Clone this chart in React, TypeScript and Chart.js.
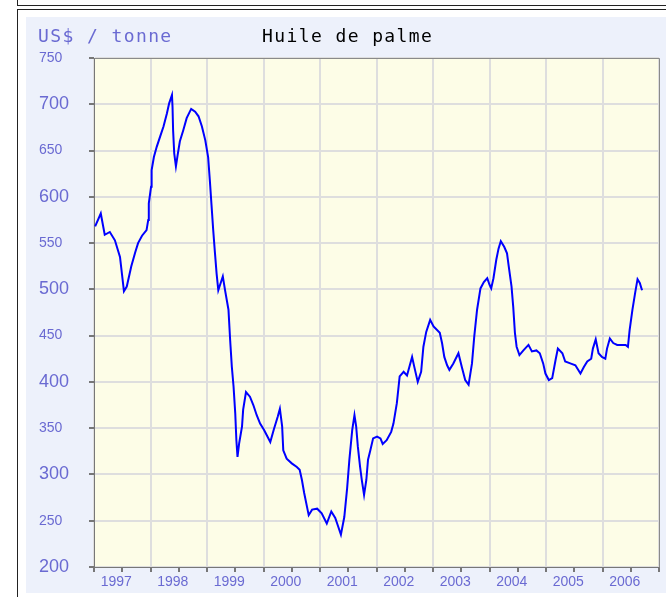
import React, { useEffect, useRef } from "react";
import { Chart, registerables } from "chart.js";

Chart.register(...registerables);

const yearPositions: number[] = [
  1997.02, 1997.12, 1997.19, 1997.28, 1997.37, 1997.46, 1997.53, 1997.58, 1997.66, 1997.73,
  1997.78, 1997.85, 1997.93, 1997.96, 1997.97, 1998.01, 1998.02, 1998.06, 1998.11, 1998.17,
  1998.23, 1998.29, 1998.33, 1998.38, 1998.39, 1998.40, 1998.42, 1998.45, 1998.48, 1998.52,
  1998.58, 1998.64, 1998.72, 1998.79, 1998.85, 1998.91, 1998.97, 1999.02, 1999.05, 1999.08,
  1999.11, 1999.14, 1999.17, 1999.20, 1999.28, 1999.32, 1999.38, 1999.41, 1999.44, 1999.47,
  1999.50, 1999.52, 1999.54, 1999.57, 1999.62, 1999.64, 1999.69, 1999.76, 1999.82, 1999.88,
  1999.94, 2000.01, 2000.12, 2000.18, 2000.25, 2000.29, 2000.33, 2000.35, 2000.41, 2000.50,
  2000.59, 2000.64, 2000.68, 2000.72, 2000.77, 2000.80, 2000.86, 2000.95, 2001.03, 2001.12,
  2001.20, 2001.27, 2001.32, 2001.37, 2001.43, 2001.48, 2001.52, 2001.57, 2001.61, 2001.64,
  2001.67, 2001.71, 2001.74, 2001.78, 2001.82, 2001.85, 2001.89, 2001.94, 2002.01, 2002.07,
  2002.11, 2002.18, 2002.26, 2002.30, 2002.36, 2002.41, 2002.48, 2002.54, 2002.63, 2002.67,
  2002.73, 2002.79, 2002.83, 2002.88, 2002.95, 2003.01, 2003.12, 2003.16, 2003.20, 2003.25,
  2003.29, 2003.36, 2003.45, 2003.51, 2003.57, 2003.63, 2003.69, 2003.73, 2003.78, 2003.84,
  2003.90, 2003.96, 2004.00, 2004.03, 2004.07, 2004.12, 2004.16, 2004.20, 2004.26, 2004.31,
  2004.34, 2004.39, 2004.42, 2004.45, 2004.48, 2004.53, 2004.60, 2004.69, 2004.75, 2004.83,
  2004.89, 2004.95, 2004.99, 2005.05, 2005.11, 2005.17, 2005.21, 2005.29, 2005.34, 2005.43,
  2005.52, 2005.61, 2005.67, 2005.73, 2005.80, 2005.83, 2005.88, 2005.93, 2005.99, 2006.05,
  2006.08, 2006.13, 2006.19, 2006.26, 2006.35, 2006.41, 2006.45, 2006.48, 2006.53, 2006.58,
  2006.62, 2006.66, 2006.70,
];

const prices: number[] = [
  568, 582, 559, 562, 553, 535, 498, 503, 525, 540,
  550, 558, 564, 575, 593, 611, 629, 643, 654, 665,
  676, 690, 701, 710, 697, 672, 647, 633, 645, 660,
  672, 685, 695, 692, 687, 676, 661, 643, 618, 591,
  564, 540, 517, 499, 514, 499, 478, 445, 416, 395,
  366, 337, 319, 334, 352, 370, 389, 384, 375, 364,
  355, 348, 335, 348, 362, 371, 352, 326, 317, 312,
  308, 305, 294, 280, 265, 256, 262, 263, 258, 247,
  260, 253, 244, 235, 254, 285, 316, 348, 364, 352,
  330, 308, 294, 278, 294, 316, 326, 339, 341, 339,
  333, 337, 346, 355, 377, 406, 411, 407, 427, 416,
  400, 411, 438, 454, 467, 460, 453, 442, 427, 418,
  413, 420, 431, 416, 402, 397, 420, 449, 478, 501,
  508, 512, 505, 501, 512, 532, 544, 552, 546, 539,
  525, 503, 481, 453, 438, 429, 434, 440, 433, 434,
  431, 420, 409, 402, 404, 424, 436, 431, 422, 420,
  418, 409, 416, 422, 425, 436, 446, 431, 427, 425,
  436, 447, 442, 440, 440, 440, 438, 456, 478, 497,
  511, 507, 499,
];

const yearLabels: string[] = ["1997", "1998", "1999", "2000", "2001", "2002", "2003", "2004", "2005", "2006"];
const yMin = 200;
const yMax = 750;
const yStep = 50;
const unitLabel = "US$ / tonne";
const titleText = "Huile de palme";

const LABEL_BLUE = "#6a6ad2";

export default function App() {
  const canvasRef = useRef<HTMLCanvasElement | null>(null);

  useEffect(() => {
    const canvas = canvasRef.current;
    if (!canvas) return;

    const framePlugin = {
      id: "framePlugin",
      beforeDraw(chart: any) {
        const { ctx, chartArea } = chart;
        ctx.save();
        ctx.fillStyle = "#fdfde7";
        ctx.fillRect(chartArea.left, chartArea.top, chartArea.right - chartArea.left, chartArea.bottom - chartArea.top);
        ctx.restore();
      },
      afterDatasetsDraw(chart: any) {
        const { ctx, chartArea } = chart;
        ctx.save();
        ctx.strokeStyle = "#8a8a8a";
        ctx.lineWidth = 1;
        ctx.beginPath();
        ctx.moveTo(Math.round(chartArea.left) + 0.5, Math.round(chartArea.top) + 0.5);
        ctx.lineTo(Math.round(chartArea.right) + 0.5, Math.round(chartArea.top) + 0.5);
        ctx.lineTo(Math.round(chartArea.right) + 0.5, Math.round(chartArea.bottom) + 0.5);
        ctx.stroke();
        ctx.restore();
      },
    };

    const chart = new Chart(canvas, {
      type: "line",
      data: {
        datasets: [
          {
            data: yearPositions.map((x, i) => ({ x, y: prices[i] })),
            borderColor: "#0000ff",
            borderWidth: 2,
            pointRadius: 0,
            tension: 0,
            fill: false,
          },
        ],
      },
      options: {
        responsive: false,
        animation: false,
        devicePixelRatio: 1,
        layout: { padding: { left: 13, top: 41, right: 7, bottom: 0 } },
        plugins: { legend: { display: false }, tooltip: { enabled: false } },
        scales: {
          x: {
            type: "linear",
            min: 1997,
            max: 2007,
            afterFit(scale: any) {
              scale.height = 26;
            },
            border: { color: "#777777", width: 1 },
            grid: {
              color: (ctx: any) =>
                ctx.tick && Number.isInteger(ctx.tick.value) ? "#dedede" : "rgba(0,0,0,0)",
              tickColor: "#777777",
              tickLength: 5,
              lineWidth: 2,
            },
            ticks: {
              stepSize: 0.5,
              autoSkip: false,
              maxRotation: 0,
              padding: 2,
              labelOffset: -6,
              color: LABEL_BLUE,
              font: { family: "Liberation Sans", size: 14 },
              callback: (value: any) => {
                const v = Number(value);
                if (Math.abs(v % 1 - 0.5) < 1e-6) {
                  const idx = Math.floor(v) - 1997;
                  return yearLabels[idx] ?? "";
                }
                return "";
              },
            },
          },
          y: {
            min: yMin,
            max: yMax,
            afterFit(scale: any) {
              scale.width = 55;
            },
            border: { color: "#777777", width: 1 },
            grid: {
              color: "#dedede",
              tickColor: "#777777",
              tickLength: 5,
              lineWidth: 2,
            },
            ticks: {
              stepSize: yStep,
              crossAlign: "far",
              color: LABEL_BLUE,
              font: (ctx: any) => ({
                family: "Liberation Sans",
                size: ctx.tick && ctx.tick.value % 100 === 0 ? 18 : 14,
              }),
            },
          },
        },
      },
      plugins: [framePlugin],
    } as any);

    return () => chart.destroy();
  }, []);

  const textBase: React.CSSProperties = {
    position: "absolute",
    fontFamily: "'DejaVu Sans Mono', monospace",
    fontSize: 18,
    lineHeight: "20px",
    letterSpacing: "1.4px",
    whiteSpace: "nowrap",
  };

  return (
    <div
      style={{
        position: "absolute",
        left: 0,
        top: 0,
        width: 666,
        height: 597,
        overflow: "hidden",
        background: "#ffffff",
      }}
    >
      <div
        style={{
          position: "absolute",
          left: 17,
          top: -19,
          width: 800,
          height: 25,
          boxSizing: "border-box",
          border: "1px solid #222",
        }}
      />
      <div
        style={{
          position: "absolute",
          left: 17,
          top: 9,
          width: 800,
          height: 700,
          boxSizing: "border-box",
          border: "1px solid #222",
        }}
      />
      <div
        style={{
          position: "absolute",
          left: 26,
          top: 17,
          width: 700,
          height: 576,
          background: "#edf1fb",
        }}
      />
      <canvas
        ref={canvasRef}
        width={640}
        height={576}
        style={{ position: "absolute", left: 26, top: 17, width: 640, height: 576 }}
      />
      <div style={{ ...textBase, left: 38, top: 26, color: LABEL_BLUE }}>{unitLabel}</div>
      <div style={{ ...textBase, left: 262, top: 26, color: "#000000" }}>{titleText}</div>
    </div>
  );
}
